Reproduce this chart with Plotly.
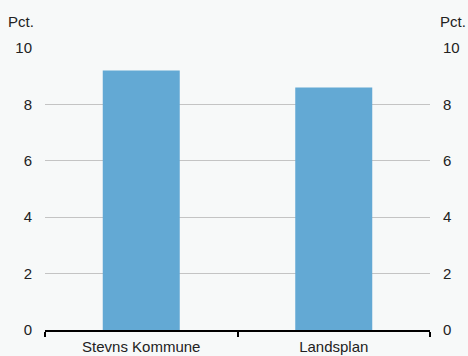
import plotly.graph_objects as go

categories = ["Stevns Kommune", "Landsplan"]
values = [9.2, 8.6]
y_ticks = [0, 2, 4, 6, 8, 10]
unit = "Pct."

bg = "#f7f9f9"
fs = 15
font = dict(family="Liberation Sans, Arial, sans-serif", size=fs, color="#222222")

fig = go.Figure()
fig.add_trace(go.Bar(x=categories, y=values, marker=dict(color="#63a9d4", line=dict(width=0)),
                     width=0.4, showlegend=False, hoverinfo="skip"))
fig.add_trace(go.Bar(x=categories, y=values, yaxis="y2", marker=dict(color="#63a9d4", line=dict(width=0)),
                     width=0.4, showlegend=False, hoverinfo="skip", opacity=0))

fig.update_layout(
    width=468, height=356,
    margin=dict(l=45, r=38, t=48, b=26),
    paper_bgcolor=bg, plot_bgcolor=bg,
    font=font,
    bargap=0.6,
    xaxis=dict(showline=True, linecolor="#000000", linewidth=2, automargin=False,
               ticks="outside", tickson="boundaries", ticklen=5, tickcolor="#000000", tickwidth=2,
               showgrid=False, zeroline=False, tickfont=dict(size=fs), ticklabelstandoff=2),
    yaxis=dict(range=[0, 10], tickvals=y_ticks, showgrid=True, gridcolor="#c4c4c4", gridwidth=1,
               zeroline=False, showline=False, ticks="", ticklabelstandoff=12, automargin=False,
               tickfont=dict(size=fs)),
    yaxis2=dict(range=[0, 10], tickvals=y_ticks, overlaying="y", side="right", showgrid=False,
                zeroline=False, showline=False, ticks="", ticklabelstandoff=12, automargin=False,
                tickfont=dict(size=fs)),
    annotations=[
        dict(text=unit, xref="paper", yref="paper", x=0, y=1, xanchor="right", yanchor="bottom",
             xshift=-9, yshift=16, showarrow=False, font=dict(size=fs)),
        dict(text=unit, xref="paper", yref="paper", x=1, y=1, xanchor="left", yanchor="bottom",
             xshift=8, yshift=16, showarrow=False, font=dict(size=fs)),
    ],
)

fig.write_html("out.html", config={"displayModeBar": False},
               post_script="document.body.style.margin='0';document.body.style.background='%s';" % bg)
